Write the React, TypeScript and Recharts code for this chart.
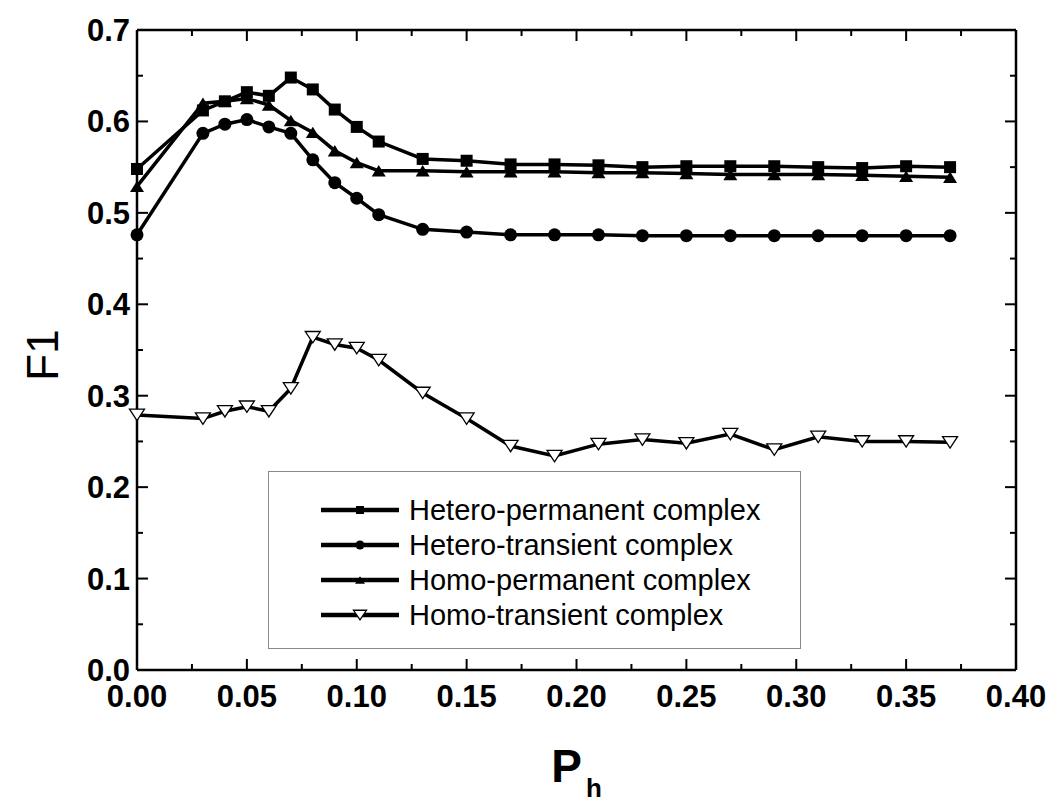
import React from "react";
import {
  Legend,
  Line,
  LineChart,
  XAxis,
  YAxis,
} from "recharts";

// x positions (P_h) shared by all four series
const phValues = [
  0, 0.03, 0.04, 0.05, 0.06, 0.07, 0.08, 0.09, 0.1, 0.11, 0.13, 0.15, 0.17,
  0.19, 0.21, 0.23, 0.25, 0.27, 0.29, 0.31, 0.33, 0.35, 0.37,
];

const heteroPermanent = [
  0.548, 0.612, 0.622, 0.632, 0.628, 0.648, 0.635, 0.613, 0.594, 0.578, 0.559,
  0.557, 0.553, 0.553, 0.552, 0.55, 0.551, 0.551, 0.551, 0.55, 0.549, 0.551,
  0.55,
];
const heteroTransient = [
  0.476, 0.587, 0.597, 0.602, 0.594, 0.587, 0.558, 0.533, 0.516, 0.498, 0.482,
  0.479, 0.476, 0.476, 0.476, 0.475, 0.475, 0.475, 0.475, 0.475, 0.475, 0.475,
  0.475,
];
const homoPermanent = [
  0.529, 0.62, 0.622, 0.625, 0.618, 0.601, 0.588, 0.568, 0.555, 0.546, 0.546,
  0.545, 0.545, 0.545, 0.544, 0.544, 0.543, 0.542, 0.542, 0.542, 0.541, 0.54,
  0.539,
];
const homoTransient = [
  0.279, 0.275, 0.283, 0.288, 0.283, 0.308, 0.364, 0.356, 0.352, 0.339, 0.303,
  0.275, 0.245, 0.234, 0.247, 0.252, 0.248, 0.258, 0.241, 0.255, 0.25, 0.25,
  0.249,
];

const xMajorTicks = [0, 0.05, 0.1, 0.15, 0.2, 0.25, 0.3, 0.35, 0.4];
const xMinorTicks = [0.025, 0.075, 0.125, 0.175, 0.225, 0.275, 0.325, 0.375];
const yMajorTicks = [0, 0.1, 0.2, 0.3, 0.4, 0.5, 0.6, 0.7];
const yMinorTicks = [0.05, 0.15, 0.25, 0.35, 0.45, 0.55, 0.65];

const seriesNames = [
  "Hetero-permanent complex",
  "Hetero-transient complex",
  "Homo-permanent complex",
  "Homo-transient complex",
];

const data = phValues.map((ph, i) => ({
  ph,
  heteroPermanent: heteroPermanent[i],
  heteroTransient: heteroTransient[i],
  homoPermanent: homoPermanent[i],
  homoTransient: homoTransient[i],
}));

const xTicks = [...xMajorTicks, ...xMinorTicks].sort((a, b) => a - b);
const yTicks = [...yMajorTicks, ...yMinorTicks].sort((a, b) => a - b);

const isMajor = (v: number, list: number[]) =>
  list.some((t) => Math.abs(t - v) < 1e-6);

const FONT = "'Liberation Sans', Arial, sans-serif";

const XTickBottom = (props: any) => {
  const { x, y, payload } = props;
  const major = isMajor(payload.value, xMajorTicks);
  return (
    <g>
      <line x1={x} y1={y} x2={x} y2={y - (major ? 11 : 6)} stroke="#000" strokeWidth={2} />
      {major && (
        <text
          x={x}
          y={y + 37}
          textAnchor="middle"
          fontFamily={FONT}
          fontWeight="bold"
          fontSize={31}
          fill="#000"
        >
          {payload.value.toFixed(2)}
        </text>
      )}
    </g>
  );
};

const XTickTop = (props: any) => {
  const { x, y, payload } = props;
  const major = isMajor(payload.value, xMajorTicks);
  return <line x1={x} y1={y} x2={x} y2={y + (major ? 11 : 6)} stroke="#000" strokeWidth={2} />;
};

const YTickLeft = (props: any) => {
  const { x, y, payload } = props;
  const major = isMajor(payload.value, yMajorTicks);
  return (
    <g>
      <line x1={x} y1={y} x2={x + (major ? 11 : 6)} y2={y} stroke="#000" strokeWidth={2} />
      {major && (
        <text
          x={x - 7}
          y={y + 11}
          textAnchor="end"
          fontFamily={FONT}
          fontWeight="bold"
          fontSize={31}
          fill="#000"
        >
          {payload.value.toFixed(1)}
        </text>
      )}
    </g>
  );
};

const YTickRight = (props: any) => {
  const { x, y, payload } = props;
  const major = isMajor(payload.value, yMajorTicks);
  return <line x1={x} y1={y} x2={x - (major ? 11 : 6)} y2={y} stroke="#000" strokeWidth={2} />;
};

// marker shapes
const drawMarker = (kind: number, cx: number, cy: number, s: number) => {
  if (kind === 0) {
    return <rect x={cx - s / 2} y={cy - s / 2} width={s} height={s} fill="#000" />;
  }
  if (kind === 1) {
    return <circle cx={cx} cy={cy} r={s / 2 + 0.5} fill="#000" />;
  }
  if (kind === 2) {
    const h = s * 0.95;
    return (
      <polygon
        points={`${cx - s / 2 - 1},${cy + h / 2} ${cx + s / 2 + 1},${cy + h / 2} ${cx},${cy - h / 2}`}
        fill="#000"
      />
    );
  }
  const w = s + 3;
  const h = s * 0.95;
  return (
    <polygon
      points={`${cx - w / 2},${cy - h / 2} ${cx + w / 2},${cy - h / 2} ${cx},${cy + h / 2}`}
      fill="#fff"
      stroke="#000"
      strokeWidth={1.3}
    />
  );
};

const makeDot = (kind: number) => (props: any) => {
  const { cx, cy, index } = props;
  if (cx == null || cy == null) return <g key={`d-${kind}-${index}`} />;
  return <g key={`d-${kind}-${index}`}>{drawMarker(kind, cx, cy, 12)}</g>;
};

const LegendBox = () => (
  <div
    style={{
      width: 533,
      height: 178,
      border: "1px solid #888",
      background: "#fff",
      boxSizing: "border-box",
      paddingTop: 20,
    }}
  >
    {seriesNames.map((name, i) => (
      <div
        key={name}
        style={{ display: "flex", alignItems: "center", height: 35 }}
      >
        <svg width={140} height={30} style={{ flex: "none" }}>
          <line x1={52} y1={15} x2={130} y2={15} stroke="#000" strokeWidth={4.5} />
          {drawMarker(i, 91, 15, i === 3 ? 10 : 8)}
        </svg>
        <span
          style={{
            fontFamily: FONT,
            fontSize: 29,
            color: "#000",
            lineHeight: "30px",
            whiteSpace: "nowrap",
          }}
        >
          {name}
        </span>
      </div>
    ))}
  </div>
);

const keys = ["heteroPermanent", "heteroTransient", "homoPermanent", "homoTransient"];

export default function App() {
  return (
    <div style={{ position: "absolute", left: 0, top: 0, background: "#fff" }}>
      <LineChart
        width={1052}
        height={802}
        data={data}
        margin={{ top: 29, right: 35, bottom: 0, left: 0 }}
      >
        <XAxis
          dataKey="ph"
          type="number"
          domain={[0, 0.4]}
          ticks={xTicks}
          interval={0}
          tickSize={0}
          tickMargin={0}
          tickLine={false}
          axisLine={{ stroke: "#000", strokeWidth: 2.5 }}
          tick={<XTickBottom />}
          height={132}
          label={{
            content: (p: any) => {
              const vb = p.viewBox;
              return (
                <text
                  x={vb.x + vb.width / 2}
                  y={vb.y + 112}
                  textAnchor="middle"
                  fontFamily={FONT}
                  fontWeight="bold"
                  fill="#000"
                >
                  <tspan fontSize={46}>P</tspan>
                  <tspan fontSize={26} dx={4} dy={15}>h</tspan>
                </text>
              );
            },
          }}
        />
        <XAxis
          xAxisId="top"
          dataKey="ph"
          orientation="top"
          type="number"
          domain={[0, 0.4]}
          ticks={xTicks}
          interval={0}
          tickSize={0}
          tickMargin={0}
          tickLine={false}
          axisLine={{ stroke: "#000", strokeWidth: 2.5 }}
          tick={<XTickTop />}
          height={1}
        />
        <YAxis
          type="number"
          domain={[0, 0.7]}
          ticks={yTicks}
          interval={0}
          tickSize={0}
          tickMargin={0}
          tickLine={false}
          axisLine={{ stroke: "#000", strokeWidth: 2.5 }}
          tick={<YTickLeft />}
          width={137}
          label={{
            content: (p: any) => {
              const vb = p.viewBox;
              const cx = vb.x + 42;
              const cy = vb.y + vb.height / 2 + 5;
              return (
                <text
                  x={cx}
                  y={cy}
                  transform={`rotate(-90, ${cx}, ${cy})`}
                  textAnchor="middle"
                  dominantBaseline="central"
                  fontFamily={FONT}
                  fontSize={44}
                  fill="#000"
                >
                  F1
                </text>
              );
            },
          }}
        />
        <YAxis
          yAxisId="right"
          orientation="right"
          type="number"
          domain={[0, 0.7]}
          ticks={yTicks}
          interval={0}
          tickSize={0}
          tickMargin={0}
          tickLine={false}
          axisLine={{ stroke: "#000", strokeWidth: 2.5 }}
          tick={<YTickRight />}
          width={1}
        />
        <Legend
          layout="vertical"
          align="center"
          verticalAlign="middle"
          content={() => <LegendBox />}
          wrapperStyle={{ left: 268, top: 471, width: 533, height: 178 }}
        />
        {keys.map((k, i) => (
          <Line
            key={k}
            dataKey={k}
            name={seriesNames[i]}
            type="linear"
            stroke="#000"
            strokeWidth={3.5}
            dot={makeDot(i)}
            activeDot={false}
            isAnimationActive={false}
          />
        ))}
        {/* invisible series tied to the frame axes so they get drawn */}
        <Line
          xAxisId="top"
          yAxisId="right"
          dataKey="homoTransient"
          stroke="none"
          dot={false}
          activeDot={false}
          legendType="none"
          isAnimationActive={false}
        />
      </LineChart>
    </div>
  );
}
